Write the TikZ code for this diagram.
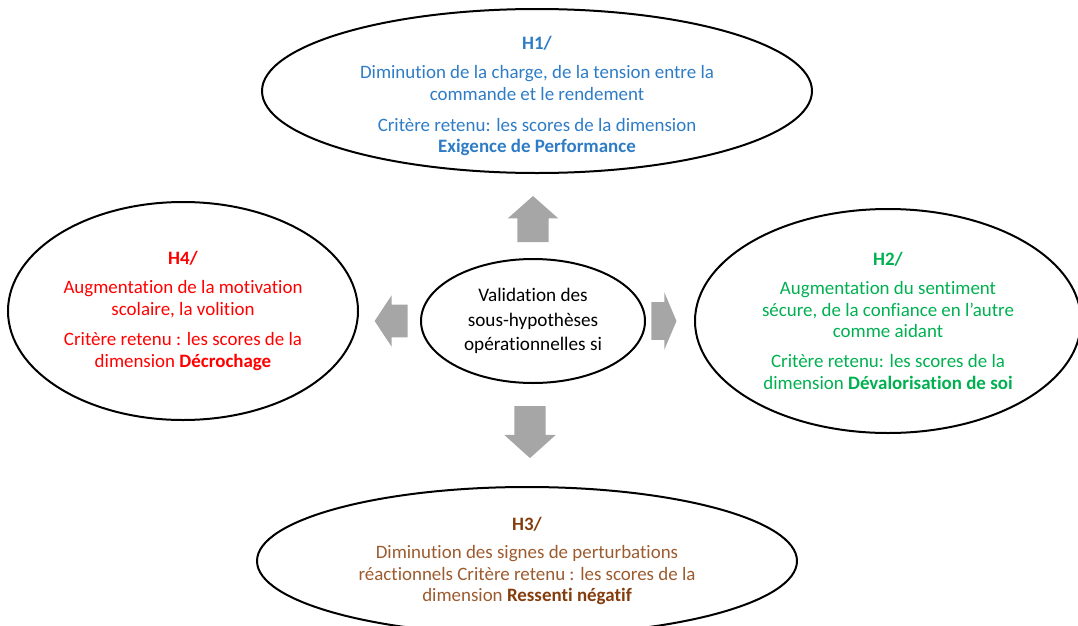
\documentclass[tikz,border=0pt]{standalone}
\usepackage{fontspec}
\setmainfont{Carlito}[Ligatures=NoCommon]
\usetikzlibrary{calc,positioning,shapes.geometric,shapes.arrows}
\definecolor{hblue}{HTML}{2E7CC6}
\definecolor{hgreen}{HTML}{00B050}
\definecolor{hred}{HTML}{FF0000}
\definecolor{hbrown}{HTML}{9C5B2E}
\definecolor{hbrowndark}{HTML}{843C0C}
\definecolor{arrowgray}{HTML}{A6A6A6}

\begin{document}
\begin{tikzpicture}[x=0.75pt, y=-0.75pt,
hyp/.style = {draw, ellipse, line width=1.5pt, inner sep=0pt,
              align=center, font=\fontsize{14.2}{16.3}\selectfont},
blockarrow/.style = {single arrow, fill=arrowgray, draw=none,
              inner xsep=0pt, minimum width=0pt}
                ]
\useasboundingbox (0,0) rectangle (1078,625);
%% centre
\node (c) [hyp, font=\fontsize{14.4}{18.4}\selectfont,
           minimum width=168pt, minimum height=93pt] at (533,321)
      {Validation des\\ sous-hypothèses\\ opérationnelles si};
%% hypotheses
\node (h1) [hyp, text=hblue, minimum width=412.5pt, minimum height=123pt,
            inner ysep=-7pt, above=63pt of c, xshift=3pt]
      {\rule{0pt}{18pt}\textbf{H1/}\\[5.5pt] Diminution de la charge, de la tension entre la\\
       commande et le rendement\\[6.5pt] Critère retenu: les scores de la dimension\\
       \textbf{Exigence de Performance}};
\node (h2) [hyp, text=hgreen, minimum width=289.5pt, minimum height=168pt,
            right=36pt of c]
      {\textbf{H2/}\\[5pt] Augmentation du sentiment\\ sécure, de la confiance en l’autre\\
       comme aidant\\[6pt] Critère retenu: les scores de la\\
       dimension \textbf{Dévalorisation de soi}};
\node (h3) [hyp, text=hbrown, minimum width=405pt, minimum height=111pt,
            below=76.5pt of c, xshift=-4.5pt]
      {\textbf{\color{hbrowndark}H3/}\\[5pt] Diminution des signes de perturbations\\
       réactionnels Critère retenu : les scores de la\\
       dimension \textbf{\color{hbrowndark}Ressenti négatif}};
\node (h4) [hyp, text=hred, minimum width=262.5pt, minimum height=163.5pt,
            left=45.75pt of c, yshift=7.5pt]
      {\textbf{H4/}\\[5pt] Augmentation de la motivation\\ scolaire, la volition\\[6.5pt]
       Critère retenu : les scores de la\\ dimension \textbf{Décrochage}};
%% arrows
\node (a1) [blockarrow, rotate=90, minimum height=34.5pt, inner ysep=11.6pt,
            single arrow head extend=7.1pt, single arrow tip angle=97]
      at ($($(c.north)!0.5!(c.north |- h1.south)$)+(0,10)$) {};
\node (a2) [blockarrow, minimum height=18.75pt, inner ysep=13.9pt,
            single arrow head extend=7.5pt, single arrow tip angle=134]
      at ($($(c.east)!0.5!(c.east -| h2.west)$)+(-10,0)$) {};
\node (a3) [blockarrow, rotate=-90, minimum height=39pt, inner ysep=11.6pt,
            single arrow head extend=7.5pt, single arrow tip angle=96]
      at ($($(c.south)!0.5!(c.south |- h3.north)$)+(-3,-10)$) {};
\node (a4) [blockarrow, rotate=180, minimum height=24.75pt, inner ysep=12pt,
            single arrow head extend=7.1pt, single arrow tip angle=113]
      at ($($(c.west)!0.5!(c.west -| h4.east)$)+(7,0)$) {};
%%
\end{tikzpicture}
\end{document}
